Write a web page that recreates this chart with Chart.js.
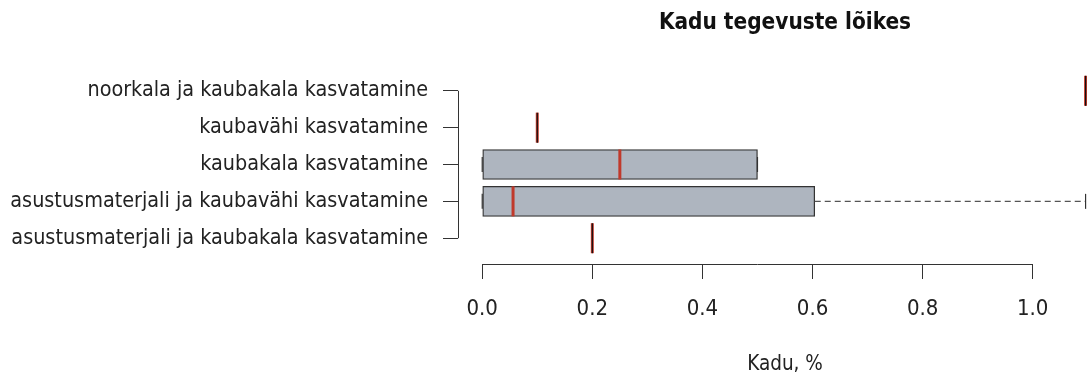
<!DOCTYPE html>
<html>
<head>
<meta charset="utf-8">
<script src="https://cdn.jsdelivr.net/npm/chart.js@4.4.1/dist/chart.umd.min.js"></script>
<style>
  html, body { margin: 0; padding: 0; background: #fff; overflow: hidden; }
  canvas { display: block; }
</style>
</head>
<body>
<canvas id="kaduChart" width="1112" height="378"></canvas>
<script>
// Kadu jaotus tegevuste kaupa (bottom to top)
const categories = [
    "asustusmaterjali ja kaubakala kasvatamine",
    "asustusmaterjali ja kaubavähi kasvatamine",
    "kaubakala kasvatamine",
    "kaubavähi kasvatamine",
    "noorkala ja kaubakala kasvatamine",
];
const whiskerLow = [0.2, 0.0, 0.0, 0.1, 1.096];
const q1 = [0.2, 0.0, 0.0, 0.1, 1.096];
const median = [0.2, 0.056, 0.25, 0.1, 1.096];
const q3 = [0.2, 0.604, 0.5, 0.1, 1.096];
const whiskerHigh = [0.2, 1.096, 0.5, 0.1, 1.096];
const xTicks = [0, 0.2, 0.4, 0.6, 0.8, 1.0];

const FONT = "'Liberation Sans Narrow', 'DejaVu Sans Condensed', Roboto, sans-serif";
const INK = "#222";
const AXIS = "#333";
const BOX_FILL = "#aeb5bf";
const MEDIAN = "#c0392b";

function seg(ctx, x1, y1, x2, y2) {
    ctx.beginPath();
    ctx.moveTo(x1, y1);
    ctx.lineTo(x2, y2);
    ctx.stroke();
}

// Mediaanid, vurrud ja teljejooned
const boxplotExtras = {
    id: "boxplotExtras",
    afterDatasetsDraw(chart) {
        const { ctx, chartArea, scales: { x, y } } = chart;
        const meta = chart.getDatasetMeta(0);
        ctx.save();
        ctx.beginPath();
        ctx.rect(chartArea.left, chartArea.top, chartArea.right - chartArea.left, chartArea.bottom - chartArea.top);
        ctx.clip();
        categories.forEach((c, i) => {
            const cy = y.getPixelForValue(i + 1);
            const half = meta.data[i].height / 2;
            const staple = half / 2;

            // vurrud
            ctx.strokeStyle = "#555";
            ctx.lineWidth = 1.4;
            ctx.setLineDash([6, 4]);
            if (whiskerHigh[i] > q3[i]) seg(ctx, x.getPixelForValue(q3[i]), cy, x.getPixelForValue(whiskerHigh[i]), cy);
            if (whiskerLow[i] < q1[i]) seg(ctx, x.getPixelForValue(whiskerLow[i]), cy, x.getPixelForValue(q1[i]), cy);
            ctx.setLineDash([]);
            ctx.strokeStyle = AXIS;
            ctx.lineWidth = 1.2;
            [whiskerLow[i], whiskerHigh[i]].forEach(v => {
                const px = x.getPixelForValue(v);
                seg(ctx, px, cy - staple, px, cy + staple);
            });

            // mediaan
            const mx = x.getPixelForValue(median[i]);
            ctx.strokeStyle = MEDIAN;
            ctx.lineWidth = 3;
            seg(ctx, mx, cy - half, mx, cy + half);

            // nullpikkusega kast
            if (q1[i] === q3[i]) {
                ctx.strokeStyle = "#111";
                ctx.lineWidth = 1.2;
                const px = x.getPixelForValue(q1[i]);
                seg(ctx, px, cy - half, px, cy + half);
            }
        });
        ctx.restore();
    },
    afterDraw(chart) {
        const { ctx, chartArea, scales: { x, y } } = chart;
        ctx.save();
        ctx.strokeStyle = AXIS;
        ctx.lineWidth = 1;
        const ax = Math.round(chartArea.left) + 0.5;
        seg(ctx, ax, y.getPixelForValue(categories.length), ax, y.getPixelForValue(1));
        const ay = Math.round(chartArea.bottom) + 0.5;
        seg(ctx, x.getPixelForValue(xTicks[0]), ay, x.getPixelForValue(xTicks[xTicks.length - 1]), ay);

        ctx.fillStyle = "#111";
        ctx.font = `bold 22.4px ${FONT}`;
        ctx.textAlign = "center";
        ctx.textBaseline = "alphabetic";
        ctx.fillText("Kadu tegevuste lõikes", (chartArea.left + chartArea.right) / 2, 29);
        ctx.restore();
    },
};

const ctx = document.getElementById("kaduChart").getContext("2d");
const chart = new Chart(ctx, {
    type: "bar",
    data: {
        datasets: [
            {
                data: categories.map((c, i) => ({ y: i + 1, x: [q1[i], q3[i]] })),
                backgroundColor: BOX_FILL,
                borderColor: AXIS,
                borderWidth: 1.3,
                borderSkipped: false,
                barThickness: 30,
            },
        ],
    },
    options: {
        indexAxis: "y",
        responsive: false,
        animation: false,
        layout: { padding: { top: 65, right: 0, bottom: 0, left: 0 } },
        plugins: {
            legend: { display: false },
            tooltip: { enabled: false },
        },
        scales: {
            x: {
                type: "linear",
                min: -0.044,
                max: 1.144,
                afterBuildTicks: (s) => { s.ticks = xTicks.map(v => ({ value: v })); },
                afterFit: (s) => { s.height = 114; },
                grid: { drawOnChartArea: false, drawTicks: true, tickLength: 15, color: AXIS, lineWidth: 1 },
                border: { display: false },
                ticks: {
                    padding: 17,
                    color: INK,
                    font: { family: FONT, size: 22 },
                    maxRotation: 0,
                    autoSkip: false,
                    callback: (v) => Number(v).toFixed(1),
                },
                title: {
                    display: true,
                    text: "Kadu, %",
                    color: INK,
                    font: { family: FONT, size: 20.5 },
                    padding: { top: 0, bottom: 1 },
                },
            },
            y: {
                type: "linear",
                min: 0.3,
                max: 5.7,
                offset: false,
                afterBuildTicks: (s) => { s.ticks = categories.map((c, i) => ({ value: i + 1 })); },
                afterFit: (s) => { s.width = 458; },
                grid: { offset: false, drawOnChartArea: false, drawTicks: true, tickLength: 15, color: AXIS, lineWidth: 1 },
                border: { display: false },
                ticks: {
                    padding: 15,
                    color: INK,
                    font: { family: FONT, size: 21.4 },
                    autoSkip: false,
                    callback: (v) => categories[v - 1],
                },
            },
        },
    },
    plugins: [boxplotExtras],
});
</script>
</body>
</html>
